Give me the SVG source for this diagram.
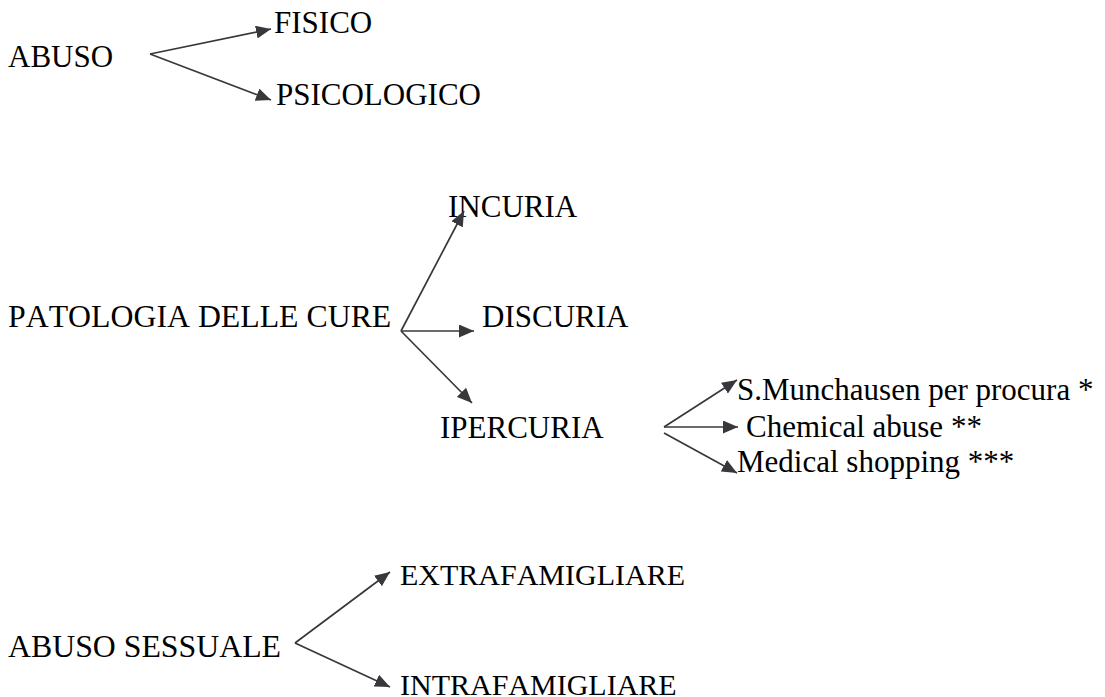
<svg xmlns="http://www.w3.org/2000/svg" width="1105" height="697" viewBox="0 0 1105 697">
<style>
text{font-family:'Liberation Serif',serif;font-size:31px;fill:#000;font-kerning:none}
.big{font-size:31.8px}
.sm{font-size:30px}
.c line{stroke:#38383c;stroke-width:1.7;fill:none}
</style>
<defs>
<marker id="ah" markerUnits="userSpaceOnUse" markerWidth="16" markerHeight="13" refX="15" refY="6.5" orient="auto">
<path d="M0,0 L15,6.5 L0,13 z" fill="#38383c"/>
</marker>
</defs>
<rect width="1105" height="697" fill="#fff"/>
<g id="abuso"><text x="8" y="67">ABUSO</text></g>
<g id="fisico"><text x="274" y="33">FISICO</text></g>
<g id="psicologico"><text x="276" y="105">PSICOLOGICO</text></g>
<g id="patologia"><text class="big" x="8" y="327">PATOLOGIA DELLE CURE</text></g>
<g id="incuria"><text x="448" y="217">INCURIA</text></g>
<g id="discuria"><text x="482" y="327">DISCURIA</text></g>
<g id="ipercuria"><text x="440" y="438">IPERCURIA</text></g>
<g id="munchausen"><text x="737" y="400">S.Munchausen per procura *</text></g>
<g id="chemical"><text x="746" y="437">Chemical abuse **</text></g>
<g id="medical"><text x="737" y="472">Medical shopping ***</text></g>
<g id="sessuale"><text class="big" x="8" y="657">ABUSO SESSUALE</text></g>
<g id="extra"><text class="sm" x="400" y="585">EXTRAFAMIGLIARE</text></g>
<g id="intra"><text class="sm" x="400" y="695">INTRAFAMIGLIARE</text></g>
<g class="c" id="connectors">
<line x1="150" y1="54" x2="271" y2="29" marker-end="url(#ah)"/>
<line x1="150" y1="54" x2="271" y2="100" marker-end="url(#ah)"/>
<line x1="401" y1="331" x2="464" y2="211" marker-end="url(#ah)"/>
<line x1="401" y1="331" x2="474" y2="331" marker-end="url(#ah)"/>
<line x1="401" y1="331" x2="472" y2="403" marker-end="url(#ah)"/>
<line x1="664" y1="427" x2="737" y2="380" marker-end="url(#ah)"/>
<line x1="664" y1="427" x2="738" y2="427" marker-end="url(#ah)"/>
<line x1="664" y1="433" x2="737" y2="473" marker-end="url(#ah)"/>
<line x1="295" y1="643" x2="390" y2="572" marker-end="url(#ah)"/>
<line x1="295" y1="643" x2="390" y2="687" marker-end="url(#ah)"/>
</g>
</svg>
